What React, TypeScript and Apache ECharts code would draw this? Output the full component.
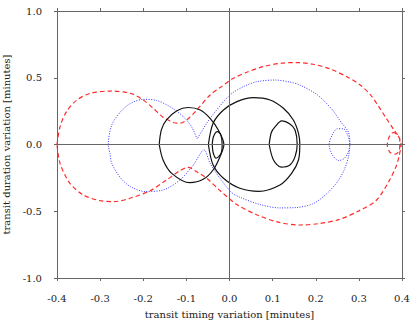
import React, { useEffect, useRef } from "react";
import * as echarts from "echarts";

// transit timing variation (x) vs transit duration variation (y), minutes
const redCurve: number[][] = [
  [-0.400, 0.000], [-0.393, 0.133], [-0.378, 0.246], [-0.354, 0.333], [-0.323, 0.383],
  [-0.277, 0.400], [-0.230, 0.384], [-0.200, 0.333], [-0.177, 0.271], [-0.154, 0.204],
  [-0.130, 0.165], [-0.115, 0.159], [-0.099, 0.184], [-0.076, 0.258], [-0.045, 0.371],
  [-0.020, 0.430], [0.009, 0.496], [0.040, 0.541], [0.078, 0.583], [0.117, 0.608],
  [0.156, 0.614], [0.194, 0.601], [0.233, 0.566], [0.272, 0.508], [0.303, 0.446],
  [0.326, 0.375], [0.345, 0.290], [0.361, 0.208], [0.381, 0.110], [0.395, 0.030],
  [0.394, -0.040], [0.384, -0.072], [0.372, -0.058], [0.366, -0.005], [0.370, 0.055],
  [0.380, 0.090], [0.392, 0.060], [0.398, 0.000], [0.394, -0.075], [0.388, -0.150],
  [0.372, -0.262], [0.341, -0.416], [0.300, -0.497], [0.253, -0.563], [0.206, -0.593],
  [0.163, -0.603], [0.113, -0.582], [0.063, -0.526], [0.016, -0.447], [-0.022, -0.345],
  [-0.053, -0.253], [-0.076, -0.204], [-0.096, -0.171], [-0.115, -0.196], [-0.146, -0.266],
  [-0.184, -0.346], [-0.231, -0.403], [-0.268, -0.428], [-0.300, -0.421], [-0.339, -0.378],
  [-0.370, -0.291], [-0.393, -0.141], [-0.400, 0.000],
];

const blueCurve: number[][] = [
  [-0.075, 0.041], [-0.088, 0.133], [-0.107, 0.208], [-0.138, 0.283], [-0.169, 0.330],
  [-0.200, 0.338], [-0.231, 0.305], [-0.254, 0.240], [-0.273, 0.146], [-0.281, 0.000],
  [-0.277, -0.070], [-0.273, -0.141], [-0.254, -0.245], [-0.231, -0.313], [-0.196, -0.352],
  [-0.154, -0.341], [-0.115, -0.266], [-0.084, -0.154], [-0.059, -0.041], [-0.045, -0.141],
  [-0.022, -0.253], [0.005, -0.360], [0.024, -0.395], [0.071, -0.450], [0.117, -0.475],
  [0.156, -0.472], [0.194, -0.443], [0.225, -0.370], [0.250, -0.280], [0.266, -0.190],
  [0.276, -0.090], [0.279, 0.000], [0.274, 0.070], [0.264, 0.118], [0.250, 0.118],
  [0.238, 0.070], [0.231, 0.000], [0.238, -0.075], [0.253, -0.120], [0.266, -0.105],
  [0.275, -0.060], [0.279, 0.000], [0.276, 0.090], [0.258, 0.170], [0.239, 0.258],
  [0.204, 0.371], [0.163, 0.446], [0.140, 0.468], [0.105, 0.483], [0.063, 0.470],
  [0.032, 0.433], [0.001, 0.371], [-0.030, 0.258], [-0.053, 0.159], [-0.075, 0.041],
];

const blackLeftLoop: number[][] = [
  [-0.163, 0.000], [-0.158, 0.110], [-0.146, 0.184], [-0.122, 0.253], [-0.096, 0.277],
  [-0.068, 0.258], [-0.045, 0.196], [-0.026, 0.109], [-0.013, 0.000], [-0.022, -0.091],
  [-0.038, -0.191], [-0.061, -0.261], [-0.092, -0.286], [-0.134, -0.216], [-0.154, -0.116],
  [-0.163, 0.000],
];

const blackBigLoop: number[][] = [
  [-0.049, 0.000], [-0.038, 0.159], [-0.014, 0.258], [0.017, 0.321], [0.055, 0.351],
  [0.094, 0.333], [0.125, 0.271], [0.148, 0.184], [0.160, 0.084], [0.163, 0.000],
  [0.160, -0.116], [0.144, -0.216], [0.117, -0.303], [0.068, -0.351], [0.024, -0.328],
  [-0.014, -0.253], [-0.038, -0.154], [-0.049, 0.000],
];

const blackInnerLoop: number[][] = [
  [-0.040, 0.000], [-0.037, 0.060], [-0.028, 0.096], [-0.020, 0.070], [-0.017, 0.000],
  [-0.020, -0.070], [-0.031, -0.103], [-0.038, -0.060], [-0.040, 0.000],
];

const blackRightLoop: number[][] = [
  [0.092, 0.000], [0.097, 0.090], [0.106, 0.134], [0.121, 0.177], [0.140, 0.153],
  [0.152, 0.109], [0.157, 0.000], [0.152, -0.091], [0.140, -0.154], [0.120, -0.170],
  [0.102, -0.116], [0.092, 0.000],
];

const xName = "transit timing variation [minutes]";
const yName = "transit duration variation [minutes]";

const FONT = "DejaVu Serif";

export default function App() {
  const ref = useRef<HTMLDivElement>(null);
  useEffect(() => {
    document.body.style.margin = "0";
    const chart = echarts.init(ref.current!, null, { renderer: "svg" });
    const frame = { color: "#666", width: 1 };
    const label = { fontFamily: FONT, fontSize: 10, color: "#222" };
    const fmt = (v: number) => v.toFixed(1);
    const SMOOTH = 0.3;
    const black = (data: number[][]) => ({
      type: "line",
      data,
      showSymbol: false,
      symbol: "none",
      smooth: SMOOTH,
      lineStyle: { color: "#111", width: 1.2, type: "solid" },
      z: 4,
    });
    chart.setOption({
      animation: false,
      textStyle: { fontFamily: FONT },
      grid: { left: 57, right: 13, top: 11, bottom: 49, outerBoundsMode: "none" },
      xAxis: [
        {
          type: "value", min: -0.4, max: 0.4, interval: 0.1, position: "bottom",
          axisLine: { show: true, onZero: false, lineStyle: frame },
          axisTick: { show: true, inside: false, length: 3, lineStyle: frame },
          axisLabel: { ...label, formatter: fmt, margin: 15, showMinLabel: true, showMaxLabel: true },
          splitLine: { show: false },
          name: xName, nameLocation: "middle", nameGap: 31,
          nameTextStyle: { ...label },
        },
        {
          type: "value", min: -0.4, max: 0.4, interval: 0.1, position: "top",
          axisLine: { show: true, onZero: false, lineStyle: frame },
          axisTick: { show: true, inside: false, length: 3, lineStyle: frame },
          axisLabel: { show: false },
          splitLine: { show: false },
        },
      ],
      yAxis: [
        {
          type: "value", min: -1, max: 1, interval: 0.5, position: "left",
          axisLine: { show: true, onZero: false, lineStyle: frame },
          axisTick: { show: true, inside: false, length: 3, lineStyle: frame },
          axisLabel: { ...label, formatter: fmt, margin: 15, showMinLabel: true, showMaxLabel: true },
          splitLine: { show: false },
          name: yName, nameLocation: "middle", nameGap: 38,
          nameTextStyle: { ...label },
        },
        {
          type: "value", min: -1, max: 1, interval: 0.5, position: "right",
          axisLine: { show: true, onZero: false, lineStyle: frame },
          axisTick: { show: true, inside: false, length: 3, lineStyle: frame },
          axisLabel: { show: false },
          splitLine: { show: false },
        },
      ],
      series: [
        {
          type: "line",
          data: [],
          showSymbol: false,
          z: 1,
          markLine: {
            silent: true,
            symbol: ["none", "none"],
            label: { show: false },
            lineStyle: { color: "#666", width: 1, type: "solid" },
            data: [{ xAxis: 0 }, { yAxis: 0 }],
          },
        },
        {
          type: "line",
          data: redCurve,
          showSymbol: false,
          symbol: "none",
          smooth: SMOOTH,
          lineStyle: { color: "#ff2a2a", width: 1.2, type: [4.5, 3] },
          z: 2,
        },
        {
          type: "line",
          data: blueCurve,
          showSymbol: false,
          symbol: "none",
          smooth: SMOOTH,
          lineStyle: { color: "#3a3aff", width: 1, type: [1, 1.5] },
          z: 3,
        },
        black(blackLeftLoop),
        black(blackBigLoop),
        black(blackInnerLoop),
        black(blackRightLoop),
      ],
    });
    return () => chart.dispose();
  }, []);
  return <div ref={ref} style={{ width: 415, height: 327 }} />;
}
